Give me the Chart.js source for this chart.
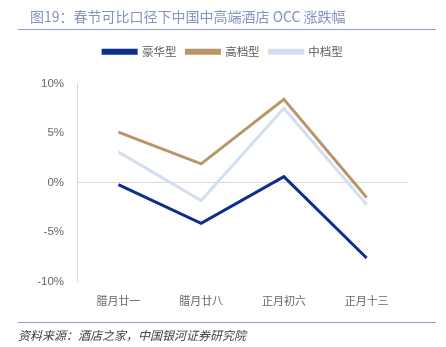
<!DOCTYPE html>
<html>
<head>
<meta charset="utf-8">
<script src="https://cdn.jsdelivr.net/npm/chart.js@4"></script>
<style>
  html, body { margin: 0; padding: 0; background: #fff; }
  #wrap { position: relative; width: 446px; height: 347px; overflow: hidden; }
  #chart { position: absolute; left: 0; top: 0; }
  .title { position: absolute; left: 30px; top: 6px; font: 14px "Noto Sans CJK SC", sans-serif; color: #8393c4; white-space: nowrap; }
  .rule { position: absolute; left: 18px; width: 418px; height: 1px; background: #8fa0cc; }
  .source { position: absolute; left: 18px; top: 326px; font: italic 12px "Noto Sans CJK SC", sans-serif; color: #404040; white-space: nowrap; }
</style>
</head>
<body>
<div id="wrap">
  <canvas id="chart" width="446" height="347"></canvas>
  <div class="title">图19：春节可比口径下中国中高端酒店 OCC 涨跌幅</div>
  <div class="rule" style="top:29px"></div>
  <div class="rule" style="top:322px"></div>
  <div class="source">资料来源：酒店之家，中国银河证券研究院</div>
</div>
<script>
const categories = ['腊月廿一', '腊月廿八', '正月初六', '正月十三'];
const seriesNames = ['豪华型', '高档型', '中档型'];
const luxury = [-0.2, -4.1, 0.6, -7.6];
const upscale = [5.1, 1.9, 8.4, -1.5];
const midscale = [3.1, -1.8, 7.5, -2.2];
const colors = ['#0d2f8c', '#b8966a', '#d3dff1'];

const ctx = document.getElementById('chart').getContext('2d');

function line(label, data, color) {
    return {
        label: label,
        data: data,
        borderColor: color,
        backgroundColor: color,
        borderWidth: 3,
        pointRadius: 0,
        tension: 0,
        fill: false
    };
}

// push the plot down below the legend
const legendGap = {
    id: 'legendGap',
    beforeInit(chart) {
        const fit = chart.legend.fit;
        chart.legend.fit = function () {
            fit.bind(chart.legend)();
            this.height += 16;
        };
    }
};

new Chart(ctx, {
    type: 'line',
    data: {
        labels: categories,
        datasets: [
            line(seriesNames[0], luxury, colors[0]),
            line(seriesNames[1], upscale, colors[1]),
            line(seriesNames[2], midscale, colors[2])
        ]
    },
    options: {
        responsive: false,
        animation: false,
        layout: {
            padding: { top: 36, left: 38, right: 38, bottom: 36 }
        },
        plugins: {
            legend: {
                display: true,
                position: 'top',
                labels: {
                    boxWidth: 33,
                    boxHeight: 3,
                    padding: 10,
                    color: '#595959',
                    font: { size: 11.5, family: "'Noto Sans CJK SC', sans-serif" }
                }
            },
            tooltip: { enabled: false }
        },
        scales: {
            x: {
                offset: true,
                grid: { display: false },
                border: { display: false },
                ticks: {
                    color: '#666666',
                    padding: 4,
                    font: { size: 11, family: "'Noto Sans CJK SC', sans-serif" }
                }
            },
            y: {
                min: -10,
                max: 10,
                afterFit: function (scale) { scale.width = 39; },
                grid: {
                    drawTicks: false,
                    color: function (c) { return c.tick && c.tick.value === 0 ? '#d9d9d9' : 'rgba(0,0,0,0)'; }
                },
                border: { display: true, color: '#d9d9d9', width: 1 },
                ticks: {
                    stepSize: 5,
                    color: '#666666',
                    padding: 13,
                    font: { size: 11.5, family: "'Liberation Sans', sans-serif" },
                    callback: function (v) { return v + '%'; }
                }
            }
        }
    },
    plugins: [legendGap]
});
</script>
</body>
</html>
